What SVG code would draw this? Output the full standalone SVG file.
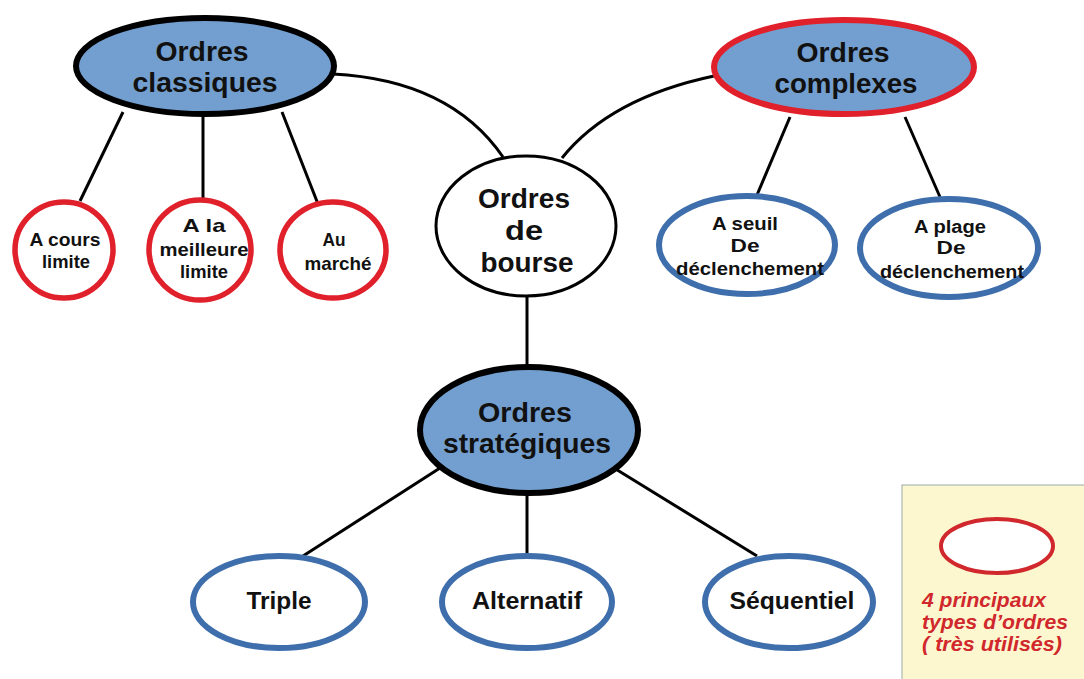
<svg xmlns="http://www.w3.org/2000/svg" width="1084" height="679" viewBox="0 0 1084 679">
<style>
.t{font-family:"Liberation Sans",Arial,sans-serif;font-weight:bold;fill:#111;text-anchor:middle}
.big{font-size:28px}
.sm{font-size:19px}
.mid{font-size:17.5px}
.bot{font-size:23.5px}
.main{fill:#729fcf;stroke:#000;stroke-width:6}
.mainr{fill:#729fcf;stroke:#e0202a;stroke-width:6}
.red{fill:#fff;stroke:#e0202a;stroke-width:5.5}
.blue{fill:#fff;stroke:#3e6eab;stroke-width:6}
.c{fill:none;stroke:#000;stroke-width:3}
.lg{font-family:"Liberation Sans",Arial,sans-serif;font-weight:bold;font-style:italic;font-size:19.5px;fill:#d0282c}
</style>
<rect width="1084" height="679" fill="#fff"/>
<g id="connectors">
<path class="c" d="M333,74 Q450,80 503,157"/>
<path class="c" d="M714,76 Q610,98 562,158"/>
<line class="c" x1="123" y1="112" x2="80" y2="201"/>
<line class="c" x1="203" y1="116" x2="203" y2="199"/>
<line class="c" x1="282" y1="112" x2="318" y2="204"/>
<line class="c" x1="790" y1="117" x2="757" y2="195"/>
<line class="c" x1="905" y1="117" x2="940" y2="197"/>
<line class="c" x1="527" y1="297" x2="527" y2="367"/>
<line class="c" x1="440" y1="468" x2="303" y2="556"/>
<line class="c" x1="527" y1="493" x2="527" y2="554"/>
<line class="c" x1="614" y1="468" x2="757" y2="556"/>
</g>
<g id="classiques"><ellipse class="main" cx="205" cy="66" rx="129" ry="48"/><text class="t big" x="202" y="61" textLength="93" lengthAdjust="spacingAndGlyphs">Ordres</text><text class="t big" x="205" y="92" textLength="145" lengthAdjust="spacingAndGlyphs">classiques</text></g>
<g id="complexes"><ellipse class="mainr" cx="844" cy="67" rx="130" ry="47"/><text class="t big" x="843" y="62" textLength="93" lengthAdjust="spacingAndGlyphs">Ordres</text><text class="t big" x="846" y="93" textLength="143" lengthAdjust="spacingAndGlyphs">complexes</text></g>
<g id="bourse"><ellipse cx="526" cy="226" rx="90" ry="70" fill="#fff" stroke="#000" stroke-width="3"/><text class="t big" x="524" y="208" textLength="92" lengthAdjust="spacingAndGlyphs">Ordres</text><text class="t big" x="524" y="240" textLength="38" lengthAdjust="spacingAndGlyphs">de</text><text class="t big" x="527" y="272" textLength="93" lengthAdjust="spacingAndGlyphs">bourse</text></g>
<g id="strategiques"><ellipse class="main" cx="529" cy="430" rx="109" ry="63"/><text class="t big" x="525" y="422" textLength="94" lengthAdjust="spacingAndGlyphs">Ordres</text><text class="t big" x="527" y="453" textLength="168" lengthAdjust="spacingAndGlyphs">stratégiques</text></g>
<g id="cours"><ellipse class="red" cx="64" cy="250" rx="49" ry="48"/><text class="t sm" x="65" y="246" textLength="71" lengthAdjust="spacingAndGlyphs">A cours</text><text class="t sm" x="66" y="268" textLength="48" lengthAdjust="spacingAndGlyphs">limite</text></g>
<g id="meilleure"><ellipse class="red" cx="200" cy="250" rx="51" ry="50"/><text class="t sm" x="204" y="232" textLength="43" lengthAdjust="spacingAndGlyphs">A la</text><text class="t sm" x="204" y="256" textLength="89" lengthAdjust="spacingAndGlyphs">meilleure</text><text class="t sm" x="204" y="278" textLength="48" lengthAdjust="spacingAndGlyphs">limite</text></g>
<g id="marche"><ellipse class="red" cx="333" cy="250" rx="53" ry="48"/><text class="t sm" x="334" y="246" textLength="23" lengthAdjust="spacingAndGlyphs">Au</text><text class="t sm" x="338" y="270" textLength="67" lengthAdjust="spacingAndGlyphs">marché</text></g>
<g id="seuil"><ellipse class="blue" cx="747" cy="245" rx="88" ry="49"/><text class="t mid" x="745" y="230" textLength="66" lengthAdjust="spacingAndGlyphs">A seuil</text><text class="t mid" x="745" y="252" textLength="29" lengthAdjust="spacingAndGlyphs">De</text><text class="t mid" x="750" y="275" textLength="148" lengthAdjust="spacingAndGlyphs">déclenchement</text></g>
<g id="plage"><ellipse class="blue" cx="949" cy="248" rx="89" ry="49"/><text class="t mid" x="950" y="233" textLength="72" lengthAdjust="spacingAndGlyphs">A plage</text><text class="t mid" x="951" y="254" textLength="29" lengthAdjust="spacingAndGlyphs">De</text><text class="t mid" x="952" y="278" textLength="144" lengthAdjust="spacingAndGlyphs">déclenchement</text></g>
<g id="triple"><ellipse class="blue" cx="279" cy="602" rx="86" ry="46"/><text class="t bot" x="279" y="609" textLength="65" lengthAdjust="spacingAndGlyphs">Triple</text></g>
<g id="alternatif"><ellipse class="blue" cx="527" cy="602" rx="85" ry="46"/><text class="t bot" x="527" y="609" textLength="110" lengthAdjust="spacingAndGlyphs">Alternatif</text></g>
<g id="sequentiel"><ellipse class="blue" cx="789" cy="602" rx="84" ry="46"/><text class="t bot" x="792" y="609" textLength="125" lengthAdjust="spacingAndGlyphs">Séquentiel</text></g>
<g id="legend">
<rect x="902" y="485" width="190" height="200" fill="#fdf7cf" stroke="#9aa" stroke-width="1"/>
<ellipse cx="997" cy="546" rx="56" ry="27" fill="#fff" stroke="#d0282c" stroke-width="4"/>
<text class="lg" x="922" y="607" textLength="124" lengthAdjust="spacingAndGlyphs">4 principaux</text>
<text class="lg" x="922" y="629" textLength="146" lengthAdjust="spacingAndGlyphs">types d’ordres</text>
<text class="lg" x="922" y="651" textLength="140" lengthAdjust="spacingAndGlyphs">( très utilisés)</text>
</g>
</svg>
